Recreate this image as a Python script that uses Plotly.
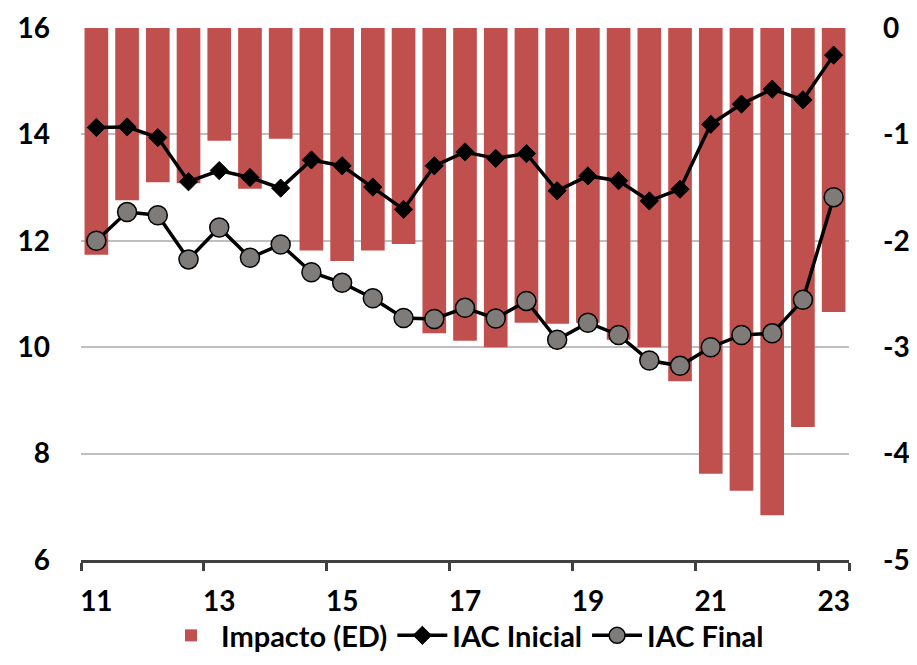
import plotly.graph_objects as go

# semestres 2011-S1 ... 2023-S1
periodos = ["2011-S1", "2011-S2", "2012-S1", "2012-S2", "2013-S1", "2013-S2",
            "2014-S1", "2014-S2", "2015-S1", "2015-S2", "2016-S1", "2016-S2",
            "2017-S1", "2017-S2", "2018-S1", "2018-S2", "2019-S1", "2019-S2",
            "2020-S1", "2020-S2", "2021-S1", "2021-S2", "2022-S1", "2022-S2",
            "2023-S1"]
etiquetas_x = ["11", "13", "15", "17", "19", "21", "23"]
ticks_der = [-5, -4, -3, -2, -1, 0]
etiquetas_der = ["-5", "-4", "-3", "-2", "-1", "0"]

impacto_ed = [-2.13, -1.62, -1.45, -1.46, -1.06, -1.51, -1.04, -2.09, -2.19,
              -2.09, -2.03, -2.87, -2.94, -3.00, -2.77, -2.78, -2.77, -2.93,
              -3.00, -3.32, -4.19, -4.35, -4.58, -3.75, -2.67]
iac_inicial = [14.13, 14.14, 13.94, 13.11, 13.32, 13.19, 12.99, 13.52, 13.41,
               13.01, 12.59, 13.41, 13.67, 13.55, 13.64, 12.94, 13.22, 13.13,
               12.75, 12.97, 14.19, 14.57, 14.85, 14.65, 15.49]
iac_final = [12.00, 12.54, 12.48, 11.65, 12.25, 11.68, 11.93, 11.41, 11.21,
             10.92, 10.55, 10.53, 10.74, 10.54, 10.87, 10.14, 10.46, 10.23,
             9.75, 9.65, 10.00, 10.23, 10.26, 10.89, 12.82]

FUENTE = dict(family="Lato", size=28, color="black", weight="bold")
FUENTE_LEYENDA = dict(family="Lato", size=29, color="black", weight="bold")

fig = go.Figure()
# barras en el eje de la derecha (base), lineas en el eje que se superpone
fig.add_trace(go.Bar(
    x=periodos, y=impacto_ed, name="Impacto (ED)",
    marker=dict(color="#C0504D", line=dict(width=0)),
    yaxis="y"
))
fig.add_trace(go.Scatter(
    x=periodos, y=iac_inicial, name="IAC Inicial", mode="lines+markers",
    line=dict(color="black", width=3.5),
    marker=dict(symbol="diamond", size=14, color="black",
                line=dict(color="black", width=1)),
    yaxis="y2"
))
fig.add_trace(go.Scatter(
    x=periodos, y=iac_final, name="IAC Final", mode="lines+markers",
    line=dict(color="black", width=3.5),
    marker=dict(symbol="circle", size=19, color="#7F7B79",
                line=dict(color="black", width=1.5)),
    yaxis="y2"
))

# la pagina tiene 8px de margen en el body: figura algo mas pequena
fig.update_layout(
    width=901, height=649,
    margin=dict(l=73, r=60, t=20, b=97, autoexpand=False),
    plot_bgcolor="white", paper_bgcolor="white",
    font=FUENTE,
    bargap=0.23,
    showlegend=True,
    legend=dict(orientation="h", x=0.5, xanchor="center", y=-0.094,
                yanchor="top", font=FUENTE_LEYENDA, traceorder="normal",
                itemwidth=50, bgcolor="rgba(0,0,0,0)"),
    xaxis=dict(
        type="category", range=[-0.5, 24.5], tickmode="array",
        tickvals=periodos[::4], ticktext=etiquetas_x, tickangle=0,
        tickson="boundaries", ticks="outside", ticklen=8, tickwidth=3,
        tickcolor="#404040", showline=True, linewidth=3, linecolor="#404040",
        showgrid=False, ticklabelstandoff=14, tickfont=FUENTE, automargin=False
    ),
    yaxis=dict(
        side="right", range=[-5, 0], tickmode="array",
        tickvals=ticks_der, ticktext=etiquetas_der, showgrid=True,
        gridcolor="#BFBFBF", gridwidth=2, zeroline=False,
        ticklabelstandoff=33, tickfont=FUENTE, automargin=False
    ),
    yaxis2=dict(
        side="left", overlaying="y", range=[6, 16], dtick=2,
        showgrid=False, zeroline=False, ticklabelstandoff=30, tickfont=FUENTE,
        automargin=False
    ),
)

fig.write_html("out.html")
